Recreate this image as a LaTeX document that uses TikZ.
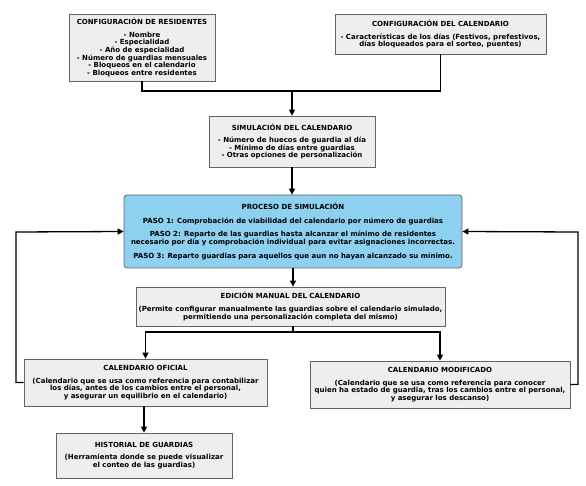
\documentclass[tikz,border=0pt]{standalone}
\usepackage{fontspec}
\setmainfont{DejaVu Sans}
\usetikzlibrary{arrows.meta}
\definecolor{boxfill}{RGB}{238,238,238}
\definecolor{boxdraw}{RGB}{100,100,100}
\definecolor{bluefill}{RGB}{141,208,240}
\tikzset{
 box/.style={draw=boxdraw, fill=boxfill, line width=0.8pt, inner sep=2pt, align=center, font=\fontsize{7}{7.6}\selectfont\bfseries},
 bluebox/.style={box, fill=bluefill, rounded corners=3pt},
 conn/.style={line width=1.3pt, black},
 arr/.style={conn, -{Triangle[length=6pt,width=6pt]}},
}
\begin{document}
\begin{tikzpicture}[x=1pt,y=-1pt]
\useasboundingbox (0,0) rectangle (586,486);
\node[box, minimum width=146pt, minimum height=67pt] (res) at (142,47.5) {CONFIGURACIÓN DE RESIDENTES\\[5pt]
- Nombre\\ - Especialidad\\ - Año de especialidad\\ - Número de guardias mensuales\\ - Bloqueos en el calendario\\ - Bloqueos entre residentes};
\node[box, minimum width=211pt, minimum height=40pt] (cal) at (440.5,34) {CONFIGURACIÓN DEL CALENDARIO\\[5pt]
- Características de los días (Festivos, prefestivos,\\ días bloqueados para el sorteo, puentes)};
\node[box, minimum width=166pt, minimum height=51pt] (sim) at (292,141.5) {SIMULACIÓN DEL CALENDARIO\\[5pt]
- Número de huecos de guardia al día\\ - Mínimo de días entre guardias\\ - Otras opciones de personalización};
\node[bluebox, minimum width=338pt, minimum height=73pt] (proc) at (293,231.5) {PROCESO DE SIMULACIÓN\\[6pt]
PASO 1: Comprobación de viabilidad del calendario por número de guardias\\[6pt]
PASO 2: Reparto de las guardias hasta alcanzar el mínimo de residentes\\ necesario por día y comprobación individual para evitar asignaciones incorrectas.\\[6pt]
PASO 3: Reparto guardias para aquellos que aun no hayan alcanzado su mínimo.};
\node[box, minimum width=309pt, minimum height=39pt] (edit) at (290.5,306.5) {EDICIÓN MANUAL DEL CALENDARIO\\[5pt]
(Permite configurar manualmente las guardias sobre el calendario simulado,\\ permitiendo una personalización completa del mismo)};
\node[box, minimum width=243pt, minimum height=47pt] (ofi) at (145.5,382.5) {CALENDARIO OFICIAL\\[5pt]
(Calendario que se usa como referencia para contabilizar\\ los días, antes de los cambios entre el personal,\\ y asegurar un equilibrio en el calendario)};
\node[box, minimum width=260pt, minimum height=47pt] (mod) at (440,384.5) {CALENDARIO MODIFICADO\\[5pt]
(Calendario que se usa como referencia para conocer\\ quien ha estado de guardia, tras los cambios entre el personal,\\ y asegurar los descanso)};
\node[box, minimum width=176pt, minimum height=45pt] (hist) at (144,455.5) {HISTORIAL DE GUARDIAS\\[5pt]
(Herramienta donde se puede visualizar\\ el conteo de las guardias)};
\coordinate (j1) at (292,91);
\coordinate (j2) at (293,332);
\coordinate (lft) at (16,232);
\coordinate (rgt) at (578,232);
\draw[conn] (res.south) -- (res.south |- j1) -| (cal.south);
\draw[arr] (j1) -- (sim.north);
\draw[arr] (sim.south) -- (sim.south |- proc.north);
\draw[arr] (proc.south) -- (proc.south |- edit.north);
\draw[conn] (proc.south |- edit.south) -- (j2);
\draw[arr] (j2) -| (ofi.north);
\draw[arr] (j2) -| (mod.north);
\draw[arr] (ofi.west) -| (lft) -- (proc.west);
\draw[arr] (mod.east) -| (rgt) -- (proc.east);
\draw[arr] (hist.north |- ofi.south) -- (hist.north);
\end{tikzpicture}
\end{document}
